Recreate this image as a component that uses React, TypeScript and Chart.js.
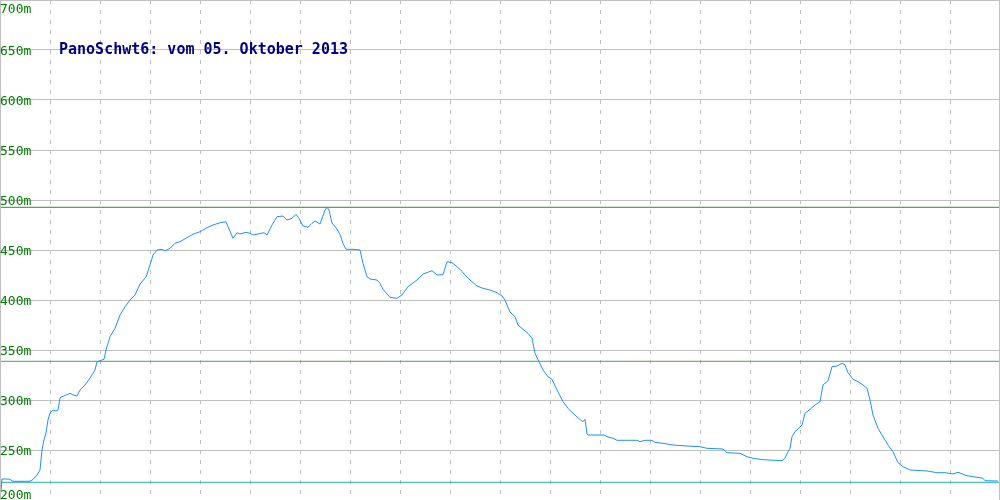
import React, { useEffect, useRef } from "react";
import { Chart, registerables } from "chart.js";

Chart.register(...registerables);

const TITLE = "PanoSchwt6: vom 05. Oktober 2013";

// y-axis tick values (m)
const yTickValues = [200, 250, 300, 350, 400, 450, 500, 550, 600, 650, 700];
const yTickLabels = yTickValues.map((v) => `${v}m`);

// position along the track (0..1000 units)
const distance = [
  1, 2, 6, 10, 12, 15, 30, 33, 37, 40, 41, 42, 44, 46, 48, 50, 53, 56, 58, 60,
  62, 66, 70, 73, 77, 80, 85, 90, 95, 97, 100, 104, 106, 110, 115, 120, 125, 130, 135, 140,
  146, 150, 153, 157, 162, 165, 170, 175, 180, 187, 193, 200, 207, 213, 220, 226, 228, 233, 237, 240,
  246, 250, 253, 258, 264, 267, 272, 277, 283, 287, 292, 296, 299, 303, 308, 312, 315, 320, 325, 327,
  329, 332, 337, 340, 343, 346, 353, 360, 363, 367, 370, 377, 380, 383, 388, 390, 397, 402, 408, 417,
  423, 432, 437, 443, 447, 452, 457, 460, 465, 470, 477, 483, 490, 497, 502, 505, 510, 515, 518, 523,
  528, 532, 535, 539, 543, 548, 552, 557, 563, 568, 573, 580, 583, 585, 587, 588, 604, 607, 613, 617,
  637, 640, 645, 652, 655, 663, 673, 687, 700, 707, 723, 727, 740, 747, 753, 763, 782, 785, 788, 790,
  792, 795, 797, 802, 805, 810, 815, 820, 823, 828, 832, 837, 842, 845, 848, 853, 858, 863, 867, 870,
  873, 878, 883, 888, 893, 898, 903, 910, 927, 937, 945, 953, 958, 967, 977, 983, 985, 998,
];

// elevation (m)
const elevation = [
  208, 221, 221, 220.7, 219, 218.7, 218.7, 220.5, 225, 230, 240, 250, 260, 267, 280, 287, 290, 289, 290, 302,
  303.3, 305, 306.7, 305, 304, 310, 315, 322, 330, 338.3, 339.3, 340.7, 350, 363.3, 371.7, 385, 393.3, 400, 405, 416,
  423, 435, 445, 450, 450.7, 449, 451.7, 456.7, 458.3, 462.3, 465.7, 468.3, 472.3, 475, 477.3, 478.3, 473.3, 461.7, 467.3, 466,
  467.7, 466.7, 465, 466, 467.3, 465, 475, 483.3, 484, 480, 481.7, 485.7, 481.7, 474, 472.7, 476.7, 479, 476, 490, 492.7,
  490, 477, 471, 465.5, 456.7, 450.7, 450.7, 450, 436.7, 423.3, 421, 420, 416.7, 410.7, 405, 402.7, 401.7, 405, 413.3, 420,
  426, 429.3, 425, 425.3, 438.3, 437.3, 433.3, 430.7, 425, 420, 414, 411.7, 410, 407.3, 404, 400, 388, 383.3, 375, 370.7,
  366.7, 361.7, 346.7, 338.3, 330, 323.3, 320.7, 310, 298.3, 291.7, 286.7, 280.5, 278.3, 280.7, 266, 265, 265, 263.3, 261.7, 259.7,
  259.7, 258.3, 259.7, 259.7, 257.7, 256.7, 255, 254, 253.3, 251.7, 251, 247.3, 246.7, 243.3, 241.7, 240.3, 239.3, 241.7, 248.3, 251.7,
  263.3, 268.3, 270, 275, 286.7, 290.7, 295, 298.3, 315, 319.3, 333.3, 334, 336.7, 335, 327.3, 320.7, 318.3, 315, 311.7, 300,
  285, 271.7, 263.3, 255, 248.3, 237.3, 233.3, 230, 229, 227.3, 227.3, 226, 227.7, 224.3, 222.7, 221.7, 219.3, 219,
];

// reference levels (m)
const maxElevation = 492.7;
const midElevation = 338.7;
const minElevation = 217.7;

const X_MIN = 0;
const X_MAX = 1000;

const overlayPlugin = {
  id: "overlay",
  afterDraw(chart: any) {
    const { ctx, chartArea, scales } = chart;
    const ys = scales.y;
    ctx.save();
    // frame (solid)
    ctx.strokeStyle = "#c0c0c0";
    ctx.lineWidth = 1;
    ctx.beginPath();
    ctx.moveTo(chartArea.left + 0.5, chartArea.top);
    ctx.lineTo(chartArea.left + 0.5, chartArea.bottom);
    ctx.moveTo(chartArea.right - 0.5, chartArea.top);
    ctx.lineTo(chartArea.right - 0.5, chartArea.bottom);
    ctx.stroke();
    // y labels
    ctx.fillStyle = "#008000";
    ctx.font = "13px 'DejaVu Sans Mono', monospace";
    ctx.textAlign = "left";
    ctx.textBaseline = "alphabetic";
    yTickValues.forEach((v, i) => {
      const py = ys.getPixelForValue(v);
      const base = Math.min(Math.max(py + 5, 13), 499);
      ctx.fillText(yTickLabels[i], chartArea.left, base);
    });
    // title
    ctx.fillStyle = "#000080";
    ctx.font = "bold 15px 'DejaVu Sans Mono', monospace";
    ctx.fillText(TITLE, chartArea.left + 59, chartArea.top + 54);
    ctx.restore();
  },
};

function refLine(value: number, color: string) {
  return {
    label: `${value}`,
    data: [
      { x: X_MIN, y: value },
      { x: X_MAX, y: value },
    ],
    borderColor: color,
    borderWidth: 1,
    pointRadius: 0,
    fill: false,
  };
}

export default function App() {
  const canvasRef = useRef<HTMLCanvasElement | null>(null);

  useEffect(() => {
    const canvas = canvasRef.current;
    if (!canvas) return;
    const profile = distance.map((d, i) => ({ x: d, y: elevation[i] }));
    const chart = new Chart(canvas, {
      type: "line",
      data: {
        datasets: [
          {
            label: "Höhe",
            data: profile,
            borderColor: "#1e90ff",
            borderWidth: 1,
            pointRadius: 0,
            tension: 0,
            fill: false,
          },
          refLine(maxElevation, "#2e8b2e"),
          refLine(midElevation, "#3ea865"),
          refLine(minElevation, "#20b2aa"),
        ] as any,
      },
      options: {
        responsive: false,
        maintainAspectRatio: false,
        animation: false,
        layout: { padding: 0 },
        plugins: {
          legend: { display: false },
          tooltip: { enabled: false },
          title: { display: false },
        },
        scales: {
          x: {
            type: "linear",
            min: X_MIN,
            max: X_MAX,
            ticks: { display: false, stepSize: 50 },
            grid: { color: "#c0c0c0", lineWidth: 1, drawTicks: false },
            border: { display: false, dash: [4, 6] },
          },
          y: {
            type: "linear",
            min: 200,
            max: 700,
            ticks: { display: false, stepSize: 50 },
            grid: { color: "#c0c0c0", lineWidth: 1, drawTicks: false },
            border: { display: false },
          },
        },
      },
      plugins: [overlayPlugin],
    });
    return () => chart.destroy();
  }, []);

  return (
    <div style={{ position: "fixed", left: 0, top: 0, width: 1000, height: 500, background: "#ffffff" }}>
      <canvas ref={canvasRef} width={1000} height={500} style={{ display: "block", width: 1000, height: 500 }} />
    </div>
  );
}
